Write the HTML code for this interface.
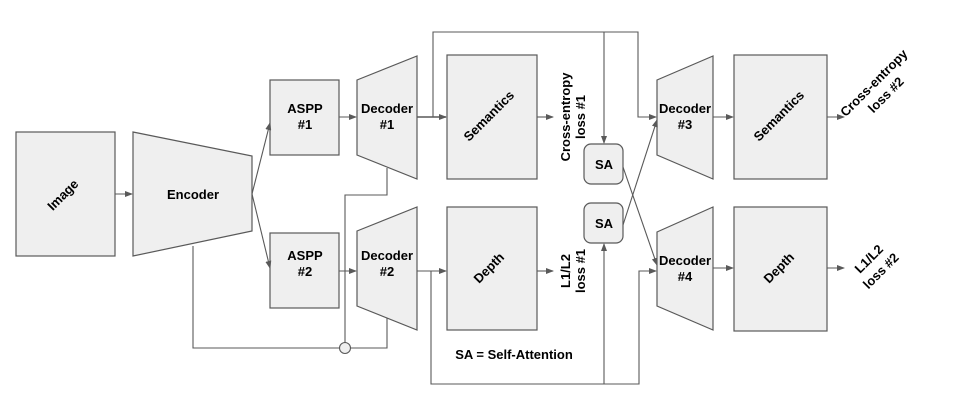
<!DOCTYPE html>
<html><head><meta charset="utf-8"><style>
html,body{margin:0;padding:0;background:#fff;width:960px;height:419px;overflow:hidden}
text{font-family:"Liberation Sans",Arial,sans-serif;font-weight:bold;font-size:13px;fill:#000}
</style></head><body>
<svg width="960" height="419" viewBox="0 0 960 419" xmlns="http://www.w3.org/2000/svg">
<defs><marker id="a" markerWidth="8" markerHeight="6" refX="7" refY="3" orient="auto" markerUnits="userSpaceOnUse"><path d="M0,0 L8,3 L0,6 z" fill="#595959"/></marker></defs>
<g fill="#efefef" stroke="#595959" stroke-width="1.2">
<rect x="16" y="132" width="99" height="124"/>
<polygon points="133,132 252,156 252,231 133,256"/>
<rect x="270" y="80" width="69" height="75"/>
<rect x="270" y="233" width="69" height="75"/>
<polygon points="357,80 417,56 417,179 357,155"/>
<polygon points="357,231 417,207 417,330 357,306"/>
<rect x="447" y="55" width="90" height="124"/>
<rect x="447" y="207" width="90" height="123"/>
<rect x="584" y="144" width="39" height="40" rx="7"/>
<rect x="584" y="203" width="39" height="40" rx="7"/>
<polygon points="657,80 713,56 713,179 657,155"/>
<polygon points="657,232 713,207 713,330 657,306"/>
<rect x="734" y="55" width="93" height="124"/>
<rect x="734" y="207" width="93" height="124"/>
</g>
<g fill="none" stroke="#595959" stroke-width="1.1">
<line x1="115" y1="194" x2="132" y2="194" marker-end="url(#a)"/>
<line x1="252" y1="194" x2="270" y2="123" marker-end="url(#a)"/>
<line x1="252" y1="194" x2="270" y2="268" marker-end="url(#a)"/>
<line x1="339" y1="117" x2="356" y2="117" marker-end="url(#a)"/>
<line x1="339" y1="271" x2="356" y2="271" marker-end="url(#a)"/>
<polyline points="193,246 193,348 340,348"/>
<polyline points="350,348 387,348 387,318"/>
<polyline points="345,343 345,195 387,195 387,168"/>
<line x1="417" y1="117" x2="446" y2="117" stroke-width="1.6" marker-end="url(#a)"/>
<polyline points="433,117 433,32 638,32 638,117 656,117" marker-end="url(#a)"/>
<line x1="604" y1="32" x2="604" y2="143" marker-end="url(#a)"/>
<line x1="417" y1="271" x2="446" y2="271" marker-end="url(#a)"/>
<polyline points="431,271 431,384 639,384 639,271 656,271" marker-end="url(#a)"/>
<line x1="604" y1="384" x2="604" y2="244" marker-end="url(#a)"/>
<line x1="537" y1="117" x2="553" y2="117" marker-end="url(#a)"/>
<line x1="537" y1="271" x2="553" y2="271" marker-end="url(#a)"/>
<line x1="623" y1="167" x2="657" y2="265" marker-end="url(#a)"/>
<line x1="623" y1="225" x2="657" y2="120" marker-end="url(#a)"/>
<line x1="713" y1="117" x2="733" y2="117" marker-end="url(#a)"/>
<line x1="713" y1="268" x2="733" y2="268" marker-end="url(#a)"/>
<line x1="827" y1="117" x2="844" y2="117" marker-end="url(#a)"/>
<line x1="827" y1="268" x2="844" y2="268" marker-end="url(#a)"/>
</g>
<circle cx="345" cy="348" r="5.5" fill="#efefef" stroke="#595959" stroke-width="1.1"/>
<g text-anchor="middle">
<text transform="translate(66,198) rotate(-45)">Image</text>
<text x="193" y="199">Encoder</text>
<text x="305" y="113">ASPP</text><text x="305" y="129">#1</text>
<text x="305" y="260">ASPP</text><text x="305" y="276">#2</text>
<text x="387" y="113">Decoder</text><text x="387" y="129">#1</text>
<text x="387" y="260">Decoder</text><text x="387" y="276">#2</text>
<text transform="translate(492,119) rotate(-45)">Semantics</text>
<text transform="translate(492,271) rotate(-45)">Depth</text>
<text transform="translate(570,117) rotate(-90)">Cross-entropy</text>
<text transform="translate(585,117) rotate(-90)">loss #1</text>
<text transform="translate(570,271) rotate(-90)">L1/L2</text>
<text transform="translate(585,271) rotate(-90)">loss #1</text>
<text x="604" y="169">SA</text>
<text x="604" y="228">SA</text>
<text x="514" y="359">SA = Self-Attention</text>
<text x="685" y="113">Decoder</text><text x="685" y="129">#3</text>
<text x="685" y="265">Decoder</text><text x="685" y="281">#4</text>
<text transform="translate(782,119) rotate(-45)">Semantics</text>
<text transform="translate(782,271) rotate(-45)">Depth</text>
<text transform="translate(877,86) rotate(-45)">Cross-entropy</text>
<text transform="translate(889,98) rotate(-45)">loss #2</text>
<text transform="translate(872,262) rotate(-45)">L1/L2</text>
<text transform="translate(884,274) rotate(-45)">loss #2</text>
</g>
</svg>
</body></html>
